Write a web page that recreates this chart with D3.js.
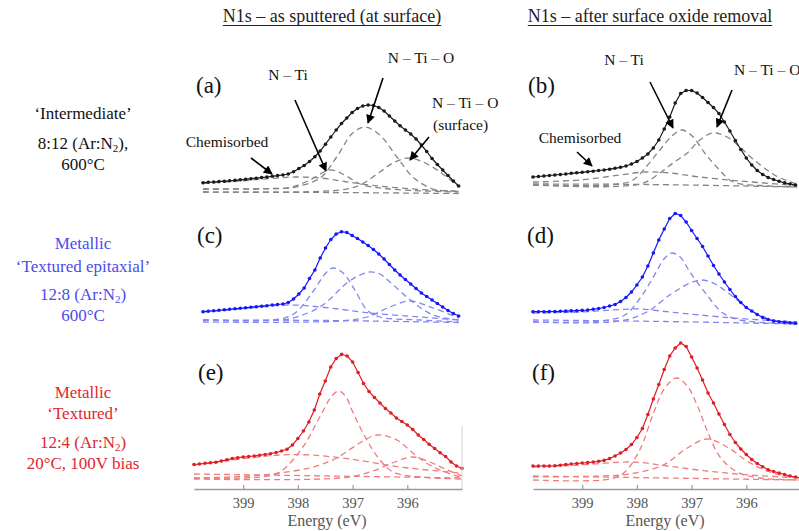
<!DOCTYPE html>
<html>
<head>
<meta charset="utf-8">
<script src="https://cdn.jsdelivr.net/npm/d3@7"></script>
<style>
  body { margin: 0; background: #fff; }
  svg { display: block; font-family: "Liberation Serif", "Times New Roman", serif; }
</style>
</head>
<body>
<svg id="chart" width="799" height="531"></svg>
<script>
// Binding energy grid of the measured points (eV)
const energies = [399.9, 399.8, 399.7, 399.6, 399.5, 399.4, 399.3, 399.2, 399.1, 399.0,
  398.9, 398.8, 398.7, 398.6, 398.5, 398.4, 398.3, 398.2, 398.1, 398.0,
  397.9, 397.8, 397.7, 397.6, 397.5, 397.4, 397.3, 397.2, 397.1, 397.0,
  396.9, 396.8, 396.7, 396.6, 396.5, 396.4, 396.3, 396.2, 396.1, 396.0,
  395.9, 395.8, 395.7, 395.6, 395.5, 395.4, 395.3, 395.2, 395.1, 395.0];
const tickEnergies = [399, 398, 397, 396];

// Measured N1s intensities (a.u.)
const spectrumA = [12.3, 12.7, 13, 13.4, 13.8, 14.2, 14.7, 15.2, 15.7, 16.3, 16.8, 17.4, 18, 18.7, 19.4, 20, 21, 23.2, 26.5, 29.5,
  33.5, 38.3, 44, 50.8, 58, 65, 71.5, 77, 82.5, 86.5, 89, 90, 89.5, 87.5, 84, 79, 74, 69.2, 65, 61,
  56, 50, 43.5, 36.5, 30.5, 25, 19.5, 14, 9];
const spectrumB = [18, 18.5, 19, 19.5, 20, 20.5, 21, 21.7, 22.2, 22.7, 23.3, 23.8, 24.5, 25, 25.8, 26.7, 27.7, 29, 31, 33.5,
  37, 41, 47, 55, 66, 78, 92, 101.5, 104.5, 104.5, 102, 97.5, 92.5, 87.5, 81.5, 73, 64, 54.5, 45.5, 37,
  30, 24.5, 20.5, 17.5, 15.5, 13.8, 12.2, 11, 10];
const spectrumC = [15.3, 15.8, 16.2, 16.7, 17.2, 17.7, 18.2, 18.7, 19.2, 19.8, 20.3, 20.8, 21.3, 22, 22.5, 23, 24.5, 28, 33, 39,
  48.5, 57, 69, 79, 87.5, 93, 95.3, 94.5, 91.5, 88.5, 85, 81.5, 77.5, 73, 68, 62.5, 57, 52, 47.5, 43,
  38.5, 34, 30.5, 27, 23.5, 20, 16.5, 13.5, 11];
const spectrumD = [15.3, 15.3, 15.3, 15.4, 15.5, 15.7, 15.9, 16.1, 16.3, 16.6, 17, 17.7, 18.5, 19.5, 21, 22.5, 25.5, 29.5, 35, 42,
  50, 61, 74, 87, 98, 108.5, 113.5, 111.5, 105, 96.5, 88.5, 80.5, 71, 61.5, 53, 45, 37.5, 30.5, 24.5, 19.5,
  16, 12.5, 9.5, 7.5, 6, 5.3, 4.8, 4.2, 3.7];
const spectrumE = [17.5, 18, 18.7, 19.2, 19.8, 21, 22.2, 23.5, 24.3, 25, 25.5, 26, 26.8, 27.5, 28.3, 29.5, 31, 32.7, 37, 43.5,
  51, 60, 72, 88, 101, 115, 123.5, 127.7, 126, 120, 109.5, 98.5, 90.5, 84.5, 79, 73.5, 69, 64, 60.5, 57,
  52.5, 47, 42.5, 37.7, 33.5, 29.3, 25.5, 20, 16, 13.7];
const spectrumF = [16, 16, 16, 16, 16.2, 16.8, 17.5, 18, 18.5, 19, 19.4, 20, 20.7, 21.6, 23.5, 26, 29, 32.5, 37.5, 44.5,
  53.5, 67.5, 83, 97.5, 112.5, 126, 134, 139, 135.5, 125, 114, 102, 89, 79, 68, 57.5, 47.5, 39.5, 33, 27.5,
  22.5, 18.5, 15.2, 12.3, 10.5, 9, 7.5, 6, 5, 4];

// Fitted components, [energy, intensity]
const aBackground = [[399.9, 3], [397.52, 2.5], [395.1, 1.5]];
const aChemisorbed = [[399.9, 11.5], [399.21, 14], [398.64, 16.5], [398.17, 18], [397.70, 17], [397.24, 13.5], [396.77, 10], [396.20, 7], [395.64, 5], [395.10, 3.5]];
const aNTi = [[399.9, 6], [398.64, 6.5], [398.27, 7.5], [397.89, 15], [397.52, 25], [397.24, 20], [396.95, 11], [396.39, 6], [395.1, 3]];
const aNTiO = [[399.9, 6], [398.27, 7], [398.08, 9], [397.70, 17], [397.39, 38], [397.09, 62], [396.86, 68], [396.58, 60], [396.26, 38], [395.96, 18], [395.58, 6], [395.10, 4]];
const aSurface = [[399.9, 3], [397.33, 5], [396.95, 10], [396.58, 23], [396.30, 33], [396.02, 37], [395.73, 32], [395.45, 23], [395.10, 8]];

const bBackground = [[399.9, 11], [397.76, 10.5], [395.07, 8]];
const bChemisorbed = [[399.9, 13], [399.04, 15], [398.31, 20], [397.85, 23], [397.40, 22], [396.85, 18], [396.12, 14], [395.07, 9.5]];
const bNTi = [[399.9, 10], [398.40, 10.5], [398.07, 15], [397.82, 29], [397.58, 45], [397.36, 59], [397.18, 65], [396.99, 59], [396.76, 42], [396.54, 28], [396.24, 13], [395.75, 9.5], [395.07, 8]];
const bNTiO = [[399.9, 10], [397.94, 11], [397.58, 22], [397.34, 32], [397.08, 42], [396.85, 55], [396.61, 62], [396.35, 58], [396.12, 48], [395.88, 36], [395.62, 25], [395.38, 17], [395.07, 11]];

const cBackground = [[399.9, 7], [397.52, 6.5], [395.1, 4.5]];
const cChemisorbed = [[399.9, 15], [399.02, 19], [398.27, 22], [397.52, 19], [396.77, 14], [395.83, 10], [395.10, 7]];
const cNTi = [[399.9, 7], [398.46, 8], [398.17, 14], [397.84, 35], [397.61, 53], [397.46, 59], [397.27, 54], [397.05, 37], [396.82, 17], [396.58, 10], [395.83, 7], [395.10, 5]];
const cNTiO = [[399.9, 7], [398.46, 7], [398.08, 11], [397.65, 22], [397.20, 44], [396.95, 52], [396.77, 55], [396.58, 53], [396.39, 45], [395.96, 25], [395.58, 12], [395.10, 7]];
const cSurface = [[399.9, 5], [397.33, 6], [396.82, 10], [396.39, 20], [396.02, 26], [395.58, 19], [395.10, 9]];

const dBackground = [[399.9, 7], [397.49, 5.5], [395.07, 3]];
const dChemisorbed = [[399.9, 14], [399.04, 15], [398.31, 17.5], [397.94, 18], [397.40, 15], [396.85, 12], [396.12, 8.5], [395.07, 5]];
const dNTi = [[399.9, 5], [398.68, 6], [398.22, 12], [397.94, 29], [397.71, 49], [397.49, 69], [397.36, 74], [397.21, 70], [397.03, 55], [396.72, 32], [396.43, 14], [396.12, 7], [395.07, 3]];
const dNTiO = [[399.9, 5], [398.31, 6], [397.82, 15], [397.40, 32], [397.03, 44], [396.81, 47], [396.57, 43], [396.35, 35], [395.93, 17], [395.51, 7], [395.07, 4]];

const eBackground = [[399.9, 8], [397.41, 6], [395.0, 4]];
const eChemisorbed = [[399.9, 17], [399.06, 23], [398.33, 27], [397.78, 27], [397.05, 23], [396.13, 15], [395.04, 9]];
const eNTi = [[399.9, 4], [398.69, 5], [398.33, 10], [397.91, 35], [397.60, 65], [397.38, 86], [397.25, 91], [397.12, 85], [396.99, 69], [396.74, 42], [396.50, 22], [396.26, 10], [395.77, 5], [395.0, 3]];
const eNTiO = [[399.9, 4], [398.88, 6], [398.33, 9], [397.72, 15], [397.29, 24], [396.87, 39], [396.55, 47], [396.19, 42], [395.90, 29], [395.53, 15], [395.04, 5]];
const eSurface = [[399.9, 3], [397.23, 4], [396.68, 10], [396.23, 20], [395.90, 25], [395.59, 20], [395.31, 13], [395.0, 6]];

const fBackground = [[399.9, 6], [397.49, 4], [395.07, 2]];
const fChemisorbed = [[399.9, 15], [399.04, 17], [398.07, 20], [397.45, 16], [396.72, 11], [395.93, 7], [395.0, 4]];
const fNTi = [[399.9, 2], [398.49, 3], [398.22, 10], [397.94, 33], [397.71, 67], [397.49, 94], [397.27, 104], [397.08, 96], [396.90, 77], [396.72, 52], [396.48, 25], [396.17, 10], [395.75, 4], [395.0, 2]];
const fNTiO = [[399.9, 5], [398.68, 6], [398.13, 8], [397.52, 17], [397.08, 34], [396.72, 43], [396.35, 35], [395.93, 19], [395.51, 9], [395.0, 4]];

// Row styling
const rows = [
  { floor: 195, line: '#1a1a1a', dash: '#858585', text: '#111' },
  { floor: 327, line: '#1515ff', dash: '#8484f2', text: '#4b4bef' },
  { floor: 482, line: '#e01c26', dash: '#f07c7c', text: '#e0262e' }
];

const panels = [
  { label: '(a)', row: 0, x0: 203, x1: 464, lx: 196, data: spectrumA, comps: [aBackground, aChemisorbed, aNTi, aNTiO, aSurface] },
  { label: '(b)', row: 0, x0: 533, x1: 801, lx: 528, data: spectrumB, comps: [bBackground, bChemisorbed, bNTi, bNTiO] },
  { label: '(c)', row: 1, x0: 203, x1: 464, lx: 197, data: spectrumC, comps: [cBackground, cChemisorbed, cNTi, cNTiO, cSurface] },
  { label: '(d)', row: 1, x0: 533, x1: 801, lx: 527, data: spectrumD, comps: [dBackground, dChemisorbed, dNTi, dNTiO] },
  { label: '(e)', row: 2, x0: 194, x1: 462, lx: 198, data: spectrumE, comps: [eBackground, eChemisorbed, eNTi, eNTiO, eSurface] },
  { label: '(f)', row: 2, x0: 533, x1: 801, lx: 532, data: spectrumF, comps: [fBackground, fChemisorbed, fNTi, fNTiO] }
];
const labelY = [93, 243, 380];

const svg = d3.select('#chart');

// Arrow head marker
svg.append('defs').append('marker')
    .attr('id', 'arrow')
    .attr('viewBox', '0 0 10 10')
    .attr('refX', 9).attr('refY', 5)
    .attr('markerUnits', 'userSpaceOnUse')
    .attr('markerWidth', 10).attr('markerHeight', 9)
    .attr('orient', 'auto')
  .append('path')
    .attr('d', 'M0,0 L10,5 L0,10 Z')
    .attr('fill', '#000');

panels.forEach(p => {
    const style = rows[p.row];
    const x = d3.scaleLinear().domain([399.9, 395.0]).range([p.x0, p.x1]);
    const y = d3.scaleLinear().domain([0, 150]).range([style.floor, style.floor - 150]);
    const g = svg.append('g');

    // fitted components (dashed)
    const compLine = d3.line()
        .x(d => x(d[0]))
        .y(d => y(d[1]))
        .curve(d3.curveCatmullRom.alpha(0.5));
    p.comps.forEach(c => {
        g.append('path')
            .attr('d', compLine(c))
            .attr('fill', 'none')
            .attr('stroke', style.dash)
            .attr('stroke-width', 1.3)
            .attr('stroke-dasharray', '6,4');
    });

    // measured spectrum
    const pts = p.data.map((v, i) => [energies[i], v]);
    g.append('path')
        .attr('d', d3.line().x(d => x(d[0])).y(d => y(d[1]))(pts))
        .attr('fill', 'none')
        .attr('stroke', style.line)
        .attr('stroke-width', 1.2);
    g.selectAll('circle')
        .data(pts)
        .enter()
        .append('circle')
        .attr('cx', d => x(d[0]))
        .attr('cy', d => y(d[1]))
        .attr('r', 1.8)
        .attr('fill', style.line);

    // panel letter
    svg.append('text')
        .attr('x', p.lx)
        .attr('y', labelY[p.row])
        .attr('font-size', 23)
        .attr('fill', '#111')
        .text(p.label);

    // energy axis on bottom row
    if (p.row === 2) {
        const ax = svg.append('g')
            .attr('transform', 'translate(0,489)')
            .call(d3.axisBottom(x)
                .tickValues(tickEnergies)
                .tickSizeInner(-4)
                .tickSizeOuter(0)
                .tickPadding(9)
                .tickFormat(d3.format('d')));
        ax.select('.domain').attr('stroke', '#9a9a9a').attr('stroke-width', 1.5);
        ax.selectAll('.tick line').attr('stroke', '#9a9a9a').attr('stroke-width', 1.2);
        ax.selectAll('.tick text')
            .attr('font-family', '"Liberation Serif", serif')
            .attr('font-size', 14.5)
            .attr('fill', '#555');
        svg.append('text')
            .attr('x', (p.x0 + Math.min(p.x1, 799)) / 2 - 1)
            .attr('y', 526)
            .attr('text-anchor', 'middle')
            .attr('font-size', 16)
            .attr('fill', '#555')
            .text('Energy (eV)');
    }
});

// faint right frame edge of panel (e)
svg.append('line')
    .attr('x1', 462).attr('x2', 462)
    .attr('y1', 426).attr('y2', 489)
    .attr('stroke', '#d4d4d4')
    .attr('stroke-width', 1);

// Column titles with underline
[{ t: 'N1s – as sputtered (at surface)', x: 332 }, { t: 'N1s – after surface oxide removal', x: 650 }].forEach(d => {
    const t = svg.append('text')
        .attr('x', d.x).attr('y', 22)
        .attr('text-anchor', 'middle')
        .attr('font-size', 18)
        .attr('fill', '#222')
        .text(d.t);
    const bb = t.node().getBBox();
    svg.append('line')
        .attr('x1', bb.x).attr('x2', bb.x + bb.width)
        .attr('y1', 25.5).attr('y2', 25.5)
        .attr('stroke', '#222').attr('stroke-width', 1);
});

// Sample descriptions on the left
function sampleLine(txt, yy, color, sub) {
    const t = svg.append('text')
        .attr('x', 83).attr('y', yy)
        .attr('text-anchor', 'middle')
        .attr('font-size', 17)
        .attr('fill', color);
    if (sub) {
        t.append('tspan').text(txt[0]);
        t.append('tspan').attr('dy', 3).attr('font-size', 11).text('2');
        t.append('tspan').attr('dy', -3).text(txt[1]);
    } else {
        t.text(txt);
    }
}
sampleLine('‘Intermediate’', 118.5, rows[0].text);
sampleLine(['8:12 (Ar:N', '),'], 149, rows[0].text, true);
sampleLine('600°C', 170, rows[0].text);
sampleLine('Metallic', 249, rows[1].text);
sampleLine('‘Textured epitaxial’', 272, rows[1].text);
sampleLine(['12:8 (Ar:N', ')'], 300, rows[1].text, true);
sampleLine('600°C', 321, rows[1].text);
sampleLine('Metallic', 398, rows[2].text);
sampleLine('‘Textured’', 419, rows[2].text);
sampleLine(['12:4 (Ar:N', ')'], 448, rows[2].text, true);
sampleLine('20°C, 100V bias', 469, rows[2].text);

// Peak annotations
const notes = [
    { t: 'N – Ti', x: 288, y: 80, a: 'middle' },
    { t: 'N – Ti – O', x: 421, y: 63, a: 'middle' },
    { t: 'N – Ti – O', x: 432, y: 108, a: 'start' },
    { t: '(surface)', x: 433, y: 130, a: 'start' },
    { t: 'Chemisorbed', x: 227, y: 147, a: 'middle' },
    { t: 'N – Ti', x: 624, y: 65, a: 'middle' },
    { t: 'N – Ti – O', x: 734, y: 75, a: 'start' },
    { t: 'Chemisorbed', x: 580, y: 143, a: 'middle' }
];
notes.forEach(n => {
    svg.append('text')
        .attr('x', n.x).attr('y', n.y)
        .attr('text-anchor', n.a)
        .attr('font-size', 15.5)
        .attr('fill', '#111')
        .text(n.t);
});

const arrows = [
    [295, 100, 326, 171],
    [383, 78, 368, 123],
    [429, 137, 410, 160],
    [251, 158, 272, 174],
    [650, 82, 673, 128],
    [732, 90, 717, 127],
    [577, 152, 592, 166]
];
arrows.forEach(a => {
    svg.append('line')
        .attr('x1', a[0]).attr('y1', a[1])
        .attr('x2', a[2]).attr('y2', a[3])
        .attr('stroke', '#000')
        .attr('stroke-width', 1.6)
        .attr('marker-end', 'url(#arrow)');
});
</script>
</body>
</html>
